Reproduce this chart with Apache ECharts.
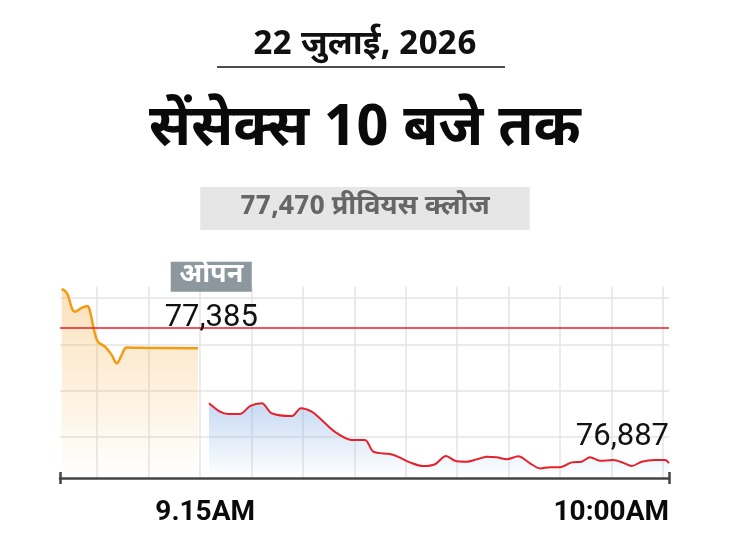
<!DOCTYPE html>
<html>
<head>
<meta charset="utf-8">
<script src="https://cdn.jsdelivr.net/npm/echarts@6/dist/echarts.min.js"></script>
<style>
html,body{margin:0;padding:0;background:#fff;}
#chart{width:730px;height:548px;}
</style>
</head>
<body>
<div id="chart"></div>
<script>
// ---- data (minutes after 9:00 AM, Sensex points) ----
const preOpenTime  = [0.17, 0.66, 1.48, 2.14, 2.69, 2.96, 3.35, 3.74, 4.43, 5.09, 5.59, 6.08, 6.57, 8.18, 13.6];
const preOpenValue = [77639, 77622, 77541, 77557, 77565, 77541, 77462, 77411, 77390, 77354, 77318, 77354, 77386, 77385, 77383];

const tradeTime  = [14.68, 15.76, 16.58, 17.73, 18.72, 19.87, 20.86, 22.83, 23.74, 24.8, 25.78, 27.09, 28.74, 30.05, 30.87, 32.51, 33.33, 34.48, 35.79, 36.95, 38.03, 38.92, 40.07, 41.05, 42.04, 43.02, 44.01, 45.15, 46.31, 47.29, 48.28, 49.26, 50.41, 51.4, 52.22, 53.2, 54.51, 55.5, 56.32, 57.31, 58.62, 59.61, 60];
const tradeValue = [77145, 77109, 77099, 77099, 77133, 77145, 77102, 77090, 77124, 77109, 77073, 77022, 76987, 76987, 76936, 76926, 76914, 76890, 76874, 76882, 76917, 76897, 76893, 76903, 76914, 76912, 76903, 76916, 76886, 76864, 76869, 76869, 76890, 76893, 76912, 76897, 76900, 76888, 76874, 76893, 76900, 76900, 76887];

const previousClose = 77470;
const openValue = 77385;
const openTime = 14.9;
const closeValue = 76887;
const closeTime = 60;

const xTickValues = [14.3, 60];
const xTickLabels = ['9.15AM', '10:00AM'];

const dateText = '22 जुलाई, 2026';
const titleText = 'सेंसेक्स 10 बजे तक';
const prevCloseText = '77,470 प्रीवियस क्लोज';
const openText = 'ओपन';

// ---- chart ----
const DEV = "'Noto Sans Devanagari','Noto Sans','Lato',sans-serif";
const NUM = "'Roboto','Liberation Sans',sans-serif";
const fmt = v => v.toLocaleString('en-IN');

const chart = echarts.init(document.getElementById('chart'), null, {renderer: 'canvas'});

const option = {
  animation: false,
  backgroundColor: '#fff',
  title: [
    {text: dateText, left: 'center', top: 31, padding: 0,
     textStyle: {fontFamily: DEV, fontSize: 34, fontWeight: 'bold', color: '#111'}},
    {text: titleText, left: 'center', top: 106, padding: 0,
     textStyle: {fontFamily: DEV, fontSize: 57, fontWeight: 'bold', color: '#0a0a0a'}},
    {text: prevCloseText, left: 'center', top: 188, padding: [8, 40], backgroundColor: '#e6e6e6',
     textStyle: {fontFamily: DEV, fontSize: 27, lineHeight: 25, fontWeight: 'bold', color: '#666'}}
  ],
  graphic: [
    {type: 'line', shape: {x1: 217, y1: 67, x2: 505, y2: 67}, style: {stroke: '#111', lineWidth: 1.5}}
  ],
  grid: [
    {left: 60, right: 61, top: 286.4, bottom: 64.8},
    {left: 45.55, right: 67, top: 286.4, bottom: 70}
  ],
  xAxis: [
    {gridIndex: 0, type: 'value', min: 0, max: 60, position: 'bottom', offset: -5.2,
     axisLine: {show: true, lineStyle: {color: '#444', width: 2.5}},
     axisTick: {show: true, customValues: [0, 60], length: 6, lineStyle: {color: '#444', width: 2.5}},
     axisLabel: {show: true, customValues: xTickValues, margin: 21, alignMaxLabel: 'right',
       formatter: v => { const i = xTickValues.indexOf(v); return i >= 0 ? xTickLabels[i] : ''; },
       fontFamily: NUM, fontSize: 28, fontWeight: 'bold', color: '#0a0a0a'},
     splitLine: {show: false}},
    {gridIndex: 0, type: 'value', min: 0, max: 60, position: 'bottom', offset: -5.2,
     axisLine: {show: false},
     axisTick: {show: true, inside: true, customValues: [0, 60], length: 6, lineStyle: {color: '#444', width: 2.5}},
     axisLabel: {show: false}, splitLine: {show: false}},
    {gridIndex: 1, type: 'value', min: 0, max: 12, interval: 1,
     axisLine: {show: false}, axisTick: {show: false}, axisLabel: {show: false},
     splitLine: {show: true, showMinLine: false, showMaxLine: true, lineStyle: {color: '#e4e4e4', width: 1.5}}}
  ],
  yAxis: [
    {gridIndex: 0, type: 'value', min: 76800, max: 77650, interval: 200,
     axisLine: {show: false}, axisTick: {show: false}, axisLabel: {show: false},
     splitLine: {show: true, showMinLine: false, showMaxLine: false, lineStyle: {color: '#e4e4e4', width: 1.5}}},
    {gridIndex: 1, type: 'value', min: 0, max: 1, show: false}
  ],
  series: [
    {
      type: 'line', name: 'pre-open', xAxisIndex: 0, yAxisIndex: 0, z: 3,
      data: preOpenTime.map((t, i) => [t, preOpenValue[i]]),
      smooth: 0.4, showSymbol: false,
      lineStyle: {color: '#f39c12', width: 2.5},
      areaStyle: {origin: 76822, color: new echarts.graphic.LinearGradient(0, 0, 0, 1, [
        {offset: 0, color: 'rgba(244,160,40,0.45)'},
        {offset: 1, color: 'rgba(244,160,40,0.0)'}])},
      markPoint: {
        symbol: 'circle', symbolSize: 0, silent: true,
        data: [
          {coord: [openTime, openValue],
           label: {show: true, position: 'inside', offset: [0, -71], formatter: openText,
             fontFamily: DEV, fontSize: 27, fontWeight: 'bold', color: '#fff',
             backgroundColor: '#8c979e', width: 61, height: 30, lineHeight: 30, padding: [0, 10], align: 'center'}},
          {coord: [openTime, openValue],
           label: {show: true, position: 'inside', offset: [0, -30], formatter: fmt(openValue),
             fontFamily: NUM, fontSize: 31, color: '#111'}}
        ]
      }
    },
    {
      type: 'line', name: 'trade', xAxisIndex: 0, yAxisIndex: 0, z: 3,
      data: tradeTime.map((t, i) => [t, tradeValue[i]]),
      smooth: 0.3, showSymbol: false,
      lineStyle: {color: '#e8202a', width: 2},
      areaStyle: {origin: 76822, color: new echarts.graphic.LinearGradient(0, 0, 0, 1, [
        {offset: 0, color: 'rgba(110,160,225,0.55)'},
        {offset: 1, color: 'rgba(110,160,225,0.0)'}])},
      markLine: {
        silent: true, symbol: 'none', label: {show: false},
        lineStyle: {color: '#ec1c24', width: 1.6, type: 'solid'},
        data: [{yAxis: previousClose}]
      },
      markPoint: {
        symbol: 'circle', symbolSize: 0, silent: true,
        data: [
          {coord: [closeTime, closeValue],
           label: {show: true, position: 'inside', align: 'right', verticalAlign: 'middle', offset: [0, -26],
             formatter: fmt(closeValue), fontFamily: NUM, fontSize: 31, color: '#111'}}
        ]
      }
    }
  ]
};
chart.setOption(option);
</script>
</body>
</html>
